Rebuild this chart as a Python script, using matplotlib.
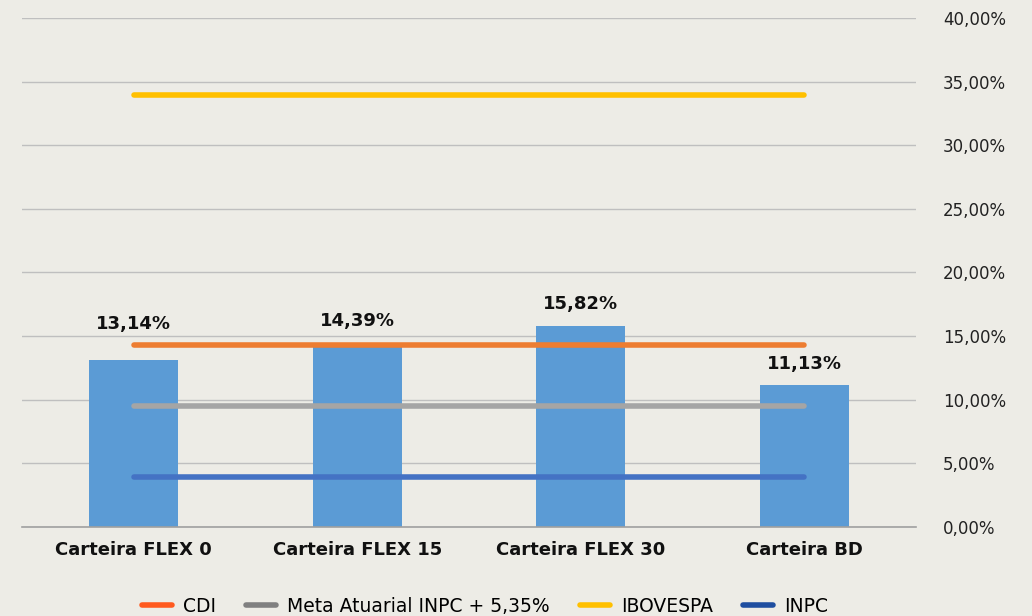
import matplotlib
matplotlib.use("Agg")
import matplotlib.pyplot as plt
from matplotlib.lines import Line2D
from matplotlib.ticker import FuncFormatter, MultipleLocator

categories = ["Carteira FLEX 0", "Carteira FLEX 15", "Carteira FLEX 30", "Carteira BD"]
retornos = [13.14, 14.39, 15.82, 11.13]
cdi = [14.30, 14.30, 14.30, 14.30]
meta = [9.51, 9.51, 9.51, 9.51]
ibovespa = [33.96, 33.96, 33.96, 33.96]
inpc = [3.93, 3.93, 3.93, 3.93]
series_names = ["CDI", "Meta Atuarial INPC + 5,35%", "IBOVESPA", "INPC"]

bg = "#EDECE6"

fig = plt.figure(figsize=(10.32, 6.16), dpi=100, facecolor=bg)
ax = fig.add_axes([0.0213, 0.1445, 0.8663, 0.8263], facecolor=bg)

x = list(range(len(categories)))
ax.bar(x, retornos, width=0.4, color="#5B9BD5", zorder=2)

line_colors = ["#ED7D31", "#A5A5A5", "#FFC000", "#4472C4"]
for vals, c in zip([cdi, meta, ibovespa, inpc], line_colors):
    ax.plot(x, vals, color=c, lw=4, solid_capstyle="round", zorder=3)

offsets = [19, 10, 9, 9]
for xi, v, off in zip(x, retornos, offsets):
    ax.annotate(f"{v:.2f}".replace(".", ",") + "%", (xi, v), xytext=(0, off),
                textcoords="offset points", ha="center", va="bottom",
                fontsize=13, fontweight="bold", color="#111111")

ax.set_xlim(-0.5, 3.5)
ax.set_ylim(0, 40)
ax.yaxis.set_major_locator(MultipleLocator(5))
ax.yaxis.set_major_formatter(FuncFormatter(lambda v, p: f"{v:.2f}".replace(".", ",") + "%"))
ax.yaxis.tick_right()
ax.grid(axis="y", color="#BFBFBF", lw=1, zorder=0)
ax.set_axisbelow(True)
ax.tick_params(axis="y", length=0, pad=19.5, labelsize=12, labelcolor="#222222")
ax.tick_params(axis="x", length=0, pad=10)
ax.set_xticks(x)
ax.set_xticklabels(categories, fontsize=13, fontweight="bold", color="#111111")
for s in ["top", "left", "right"]:
    ax.spines[s].set_visible(False)
ax.spines["bottom"].set_color("#A0A0A0")
ax.spines["bottom"].set_linewidth(1.2)

legend_colors = ["#FF5A1F", "#808080", "#FFC000", "#1F4EA0"]
handles = [Line2D([0], [0], color=c, lw=4, solid_capstyle="round") for c in legend_colors]
fig.legend(handles, series_names, loc="lower center", bbox_to_anchor=(0.47, -0.027), ncol=4,
           frameon=False, prop={"size": 13.5}, handlelength=1.6,
           columnspacing=1.6, handletextpad=0.6)

fig.savefig("out.png", dpi=100, facecolor=bg)
